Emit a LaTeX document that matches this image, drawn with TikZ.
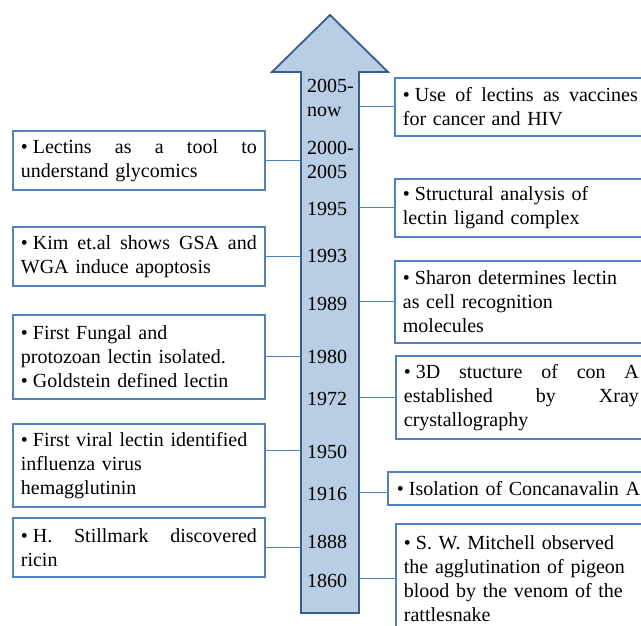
\documentclass[tikz,border=0pt]{standalone}
\usepackage{fontspec}
\setmainfont{Liberation Serif}
\usepackage{xcolor}
\usepackage{tikz}
\usetikzlibrary{positioning}
\definecolor{evblue}{HTML}{4F81BD}
\definecolor{tlfill}{HTML}{B9CDE5}
\definecolor{tldraw}{HTML}{385D8A}
\newcommand{\bitem}{\textbullet\kern5pt}
\newcommand{\jline}[1]{\leavevmode\hbox to\hsize{\spaceskip=.25em plus 1fil\relax #1}}
\tikzstyle{timeline} = [draw=tldraw, fill=tlfill, line width=1.8pt, line join=miter]
\tikzstyle{event}    = [rectangle, draw=evblue, line width=1.8pt, fill=white, anchor=north west,
                        inner xsep=8pt, inner ysep=0pt, text width=236pt, align=left]
\tikzstyle{revent}   = [event, text width=235pt]
\tikzstyle{year}     = [anchor=base west, inner sep=0pt, text width=48pt, align=left]
\tikzstyle{link}     = [draw=evblue, line width=0.9pt]
\tikzset{every node/.style={font=\fontsize{20pt}{24pt}\selectfont}}

\begin{document}
\begin{tikzpicture}[x=1pt, y=-1pt]
    \useasboundingbox (0,0) rectangle (641,626);
    \clip (0,0) rectangle (641,626);

    \node (shaft) at (330,342.5) [minimum width=58pt, minimum height=541pt, inner sep=0pt, outer sep=0pt] {};
    \draw [timeline] (shaft.south west) -- (shaft.north west) -- ++(-29,0) -- (330,15)
          -- (388,72) -- (shaft.north east) -- (shaft.south east) -- cycle;

    \node (y2005) at (307,93)  [year] {2005-\\now};
    \node (y2000) at (307,155) [year] {2000-\\2005};
    \node (y1995) at (307,215) [year] {1995};
    \node (y1993) at (307,262) [year] {1993};
    \node (y1989) at (307,310) [year] {1989};
    \node (y1980) at (307,363) [year] {1980};
    \node (y1972) at (307,405) [year] {1972};
    \node (y1950) at (307,458) [year] {1950};
    \node (y1916) at (307,500) [year] {1916};
    \node (y1888) at (307,548) [year] {1888};
    \node (y1860) at (307,587) [year] {1860};

    \node (glyco)  at (12,130) [event, minimum height=59pt]
          {\jline{\bitem Lectins as a tool to}\\understand glycomics};
    \node (apopt)  at (12,226) [event, minimum height=59pt]
          {\jline{\bitem Kim et.al shows GSA and}\\WGA induce apoptosis};
    \node (fungal) at (12,314) [event, minimum height=84pt]
          {\bitem First Fungal and\\protozoan lectin isolated.\\\bitem Goldstein defined lectin};
    \node (viral)  at (12,423) [event, minimum height=83pt]
          {\bitem First viral lectin identified\\influenza virus\\hemagglutinin};
    \node (ricin)  at (12,517) [event, minimum height=59pt]
          {\jline{\bitem H. Stillmark discovered}\\ricin};

    \node (vaccine) at (394,77)  [revent, minimum height=58pt]
          {\jline{\bitem Use of lectins as vaccines}\\for cancer and HIV};
    \node (ligand)  at (394,178) [revent, minimum height=58pt]
          {\bitem Structural analysis of\\lectin ligand complex};
    \node (sharon)  at (394,260) [revent, minimum height=82pt]
          {\bitem Sharon determines lectin\\as cell recognition\\molecules};
    \node (xray)    at (395,355) [revent, minimum height=83pt]
          {\jline{\bitem 3D stucture of con A}\\\jline{established by Xray}\\crystallography};
    \node (cona)    at (387,471) [revent, inner xsep=9pt, text width=250pt, minimum height=33pt]
          {\bitem Isolation of Concanavalin A};
    \node (pigeon)  at (395,523) [revent, minimum height=110pt]
          {\bitem S. W. Mitchell observed\\the agglutination of pigeon\\blood by the venom of the\\rattlesnake};

    \draw [link] (glyco.east)  -- (glyco.east -| shaft.west);
    \draw [link] (apopt.east)  -- (apopt.east -| shaft.west);
    \draw [link] (fungal.east) -- (fungal.east -| shaft.west);
    \draw [link] ([yshift=14.5pt]viral.east) -- ([yshift=14.5pt]viral.east -| shaft.west);
    \draw [link] (ricin.east)  -- (ricin.east -| shaft.west);
    \draw [link] (vaccine.west) -- (vaccine.west -| shaft.east);
    \draw [link] (ligand.west)  -- (ligand.west -| shaft.east);
    \draw [link] (sharon.west)  -- (sharon.west -| shaft.east);
    \draw [link] (xray.west)    -- (xray.west -| shaft.east);
    \draw [link] ([yshift=-4.5pt]cona.west) -- ([yshift=-4.5pt]cona.west -| shaft.east);
    \draw [link] (pigeon.west)  -- (pigeon.west -| shaft.east);
\end{tikzpicture}
\end{document}
